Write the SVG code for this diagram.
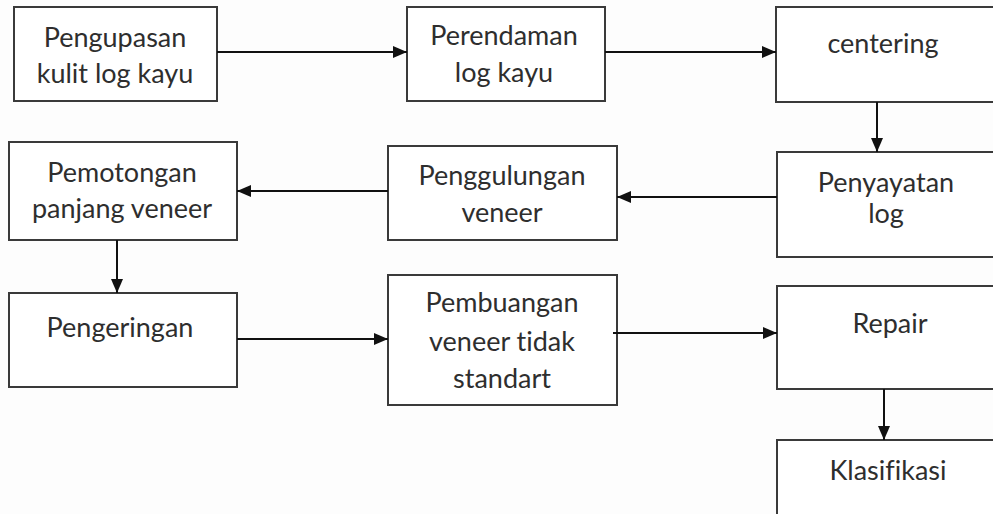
<svg xmlns="http://www.w3.org/2000/svg" width="993" height="514" viewBox="0 0 993 514">
  <style>
    .box { fill: #ffffff; stroke: #3a3a3a; stroke-width: 2; }
    .lbl { font-family: Lato, "Open Sans", "Liberation Sans", sans-serif; font-size: 27px; fill: #2e2e2e; text-anchor: middle; font-variant-ligatures: none; font-feature-settings: "liga" 0; }
    .conn { stroke: #111111; stroke-width: 2; fill: none; marker-end: url(#arrow); }
  </style>
  <defs>
    <marker id="arrow" viewBox="0 0 14 12" refX="14" refY="6" markerWidth="14" markerHeight="12" markerUnits="userSpaceOnUse" orient="auto">
      <path d="M0,0 L14,6 L0,12 Z" fill="#111111"/>
    </marker>
  </defs>
  <rect width="993" height="514" fill="#fdfdfd"/>

  <g id="n-pengupasan">
    <rect class="box" x="14" y="7" width="203" height="94"/>
    <text class="lbl" x="115" y="47">Pengupasan</text>
    <text class="lbl" x="115" y="83">kulit log kayu</text>
  </g>
  <g id="n-perendaman">
    <rect class="box" x="407" y="7" width="198" height="94"/>
    <text class="lbl" x="504" y="45">Perendaman</text>
    <text class="lbl" x="504" y="82">log kayu</text>
  </g>
  <g id="n-centering">
    <rect class="box" x="776" y="7" width="222" height="95"/>
    <text class="lbl" x="883" y="53">centering</text>
  </g>
  <g id="n-penyayatan">
    <rect class="box" x="777" y="152" width="221" height="105"/>
    <text class="lbl" x="886" y="192">Penyayatan</text>
    <text class="lbl" x="886" y="223">log</text>
  </g>
  <g id="n-penggulungan">
    <rect class="box" x="388" y="146" width="229" height="94"/>
    <text class="lbl" x="502" y="185">Penggulungan</text>
    <text class="lbl" x="502" y="222">veneer</text>
  </g>
  <g id="n-pemotongan">
    <rect class="box" x="9" y="142" width="228" height="98"/>
    <text class="lbl" x="122" y="182">Pemotongan</text>
    <text class="lbl" x="122" y="218">panjang veneer</text>
  </g>
  <g id="n-pengeringan">
    <rect class="box" x="9" y="293" width="228" height="94"/>
    <text class="lbl" x="120" y="337">Pengeringan</text>
  </g>
  <g id="n-pembuangan">
    <rect class="box" x="388" y="275" width="229" height="130"/>
    <text class="lbl" x="502" y="312">Pembuangan</text>
    <text class="lbl" x="502" y="351">veneer tidak</text>
    <text class="lbl" x="502" y="388">standart</text>
  </g>
  <g id="n-repair">
    <rect class="box" x="777" y="286" width="221" height="103"/>
    <text class="lbl" x="890" y="333">Repair</text>
  </g>
  <g id="n-klasifikasi">
    <rect class="box" x="777" y="440" width="221" height="90"/>
    <text class="lbl" x="888" y="480">Klasifikasi</text>
  </g>

  <g id="connectors">
    <line class="conn" x1="217" y1="52" x2="407" y2="52"/>
    <line class="conn" x1="605" y1="52" x2="776" y2="52"/>
    <line class="conn" x1="877" y1="102" x2="877" y2="152"/>
    <line class="conn" x1="777" y1="197" x2="617" y2="197"/>
    <line class="conn" x1="388" y1="191" x2="237" y2="191"/>
    <line class="conn" x1="117" y1="240" x2="117" y2="293"/>
    <line class="conn" x1="237" y1="339" x2="388" y2="339"/>
    <line class="conn" x1="613" y1="333" x2="777" y2="333"/>
    <line class="conn" x1="884" y1="389" x2="884" y2="440"/>
  </g>
</svg>
